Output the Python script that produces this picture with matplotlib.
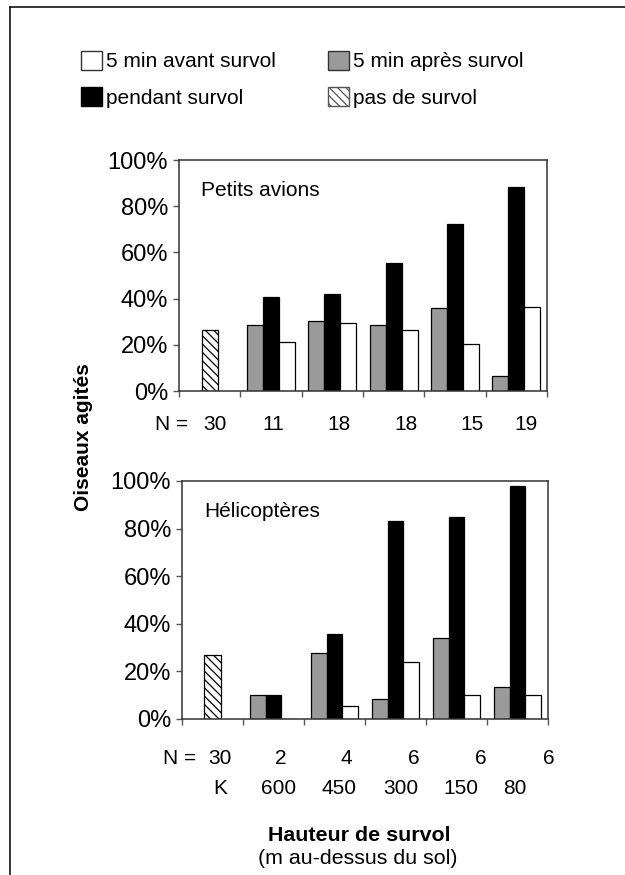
import numpy as np
import matplotlib
matplotlib.use('Agg')
import matplotlib.pyplot as plt
from matplotlib.patches import Patch
from matplotlib.lines import Line2D
from matplotlib.ticker import FuncFormatter

plt.rcParams['font.family'] = ['Liberation Sans', 'DejaVu Sans']
plt.rcParams['hatch.linewidth'] = 0.9

# Hauteurs de survol (K = controle, pas de survol)
hauteurs = ['K', '600', '450', '300', '150', '80']
n_avions = [30, 11, 18, 18, 15, 19]
n_helicos = [30, 2, 4, 6, 6, 6]

# Petits avions (% d'oiseaux agites)
avions_controle = 26.3
avions_apres = [28.5, 30.3, 28.6, 36.0, 6.4]
avions_pendant = [40.5, 42.2, 55.6, 72.5, 88.4]
avions_avant = [21.1, 29.3, 26.6, 20.2, 36.4]

# Helicopteres
helicos_controle = 26.8
helicos_apres = [10.2, 27.9, 8.4, 34.0, 13.6]
helicos_pendant = [10.2, 35.6, 83.0, 84.7, 98.0]
helicos_avant = [0.0, 5.3, 24.0, 10.2, 10.2]

# layout: small shifts of the N / height labels (in group units)
shift_n_avions = [0.08, 0.03, 0.11, 0.2, 0.28, 0.16]
shift_n_helicos = [0.12, 0.12, 0.19, 0.3, 0.4, 0.52]
shift_hauteurs = [0.12, 0.09, 0.07, 0.09, 0.07, -0.04]

GRIS = '#9a9a9a'
bw = 0.26


def draw_panel(ax, titre, controle, apres, pendant, avant):
    x = np.arange(1, len(hauteurs))
    ax.bar([0], [controle], bw * 1.02, color='white', edgecolor='black',
           hatch='\\\\\\\\', linewidth=0.9)
    ax.bar(x - bw, apres, bw, color=GRIS, edgecolor='black', linewidth=0.9)
    ax.bar(x, pendant, bw, color='black', edgecolor='black', linewidth=0.9)
    ax.bar(x + bw, avant, bw, color='white', edgecolor='black', linewidth=0.9)
    ax.set_xlim(-0.5, len(hauteurs) - 0.5)
    ax.set_ylim(0, 100)
    ax.set_yticks(np.arange(0, 101, 20))
    ax.yaxis.set_major_formatter(FuncFormatter(lambda v, p: '%d%%' % v))
    ax.set_xticks(np.arange(-0.5, len(hauteurs), 1.0))
    ax.set_xticklabels([])
    ax.tick_params(axis='both', direction='out', length=4.5, width=1,
                   color='#555555', labelsize=17, pad=3.5)
    for s in ax.spines.values():
        s.set_color('#333333')
        s.set_linewidth(1.1)
    ax.text(0.06, 0.87, titre, transform=ax.transAxes, fontsize=15,
            va='center', ha='left')


fig = plt.figure(figsize=(6.25, 8.75), dpi=100)

ax1 = fig.add_axes([0.2864, 0.5531, 0.5888, 0.264])
ax2 = fig.add_axes([0.2912, 0.1783, 0.5856, 0.272])

draw_panel(ax1, 'Petits avions', avions_controle, avions_apres,
           avions_pendant, avions_avant)
draw_panel(ax2, 'Hélicoptères', helicos_controle, helicos_apres,
           helicos_pendant, helicos_avant)

# N and height rows under the axes
pos = np.arange(len(hauteurs))
for i in range(len(hauteurs)):
    ax1.text(pos[i] + shift_n_avions[i], -0.147, str(n_avions[i]),
             transform=ax1.get_xaxis_transform(), ha='center', va='center',
             fontsize=15)
    ax2.text(pos[i] + shift_n_helicos[i], -0.164, str(n_helicos[i]),
             transform=ax2.get_xaxis_transform(), ha='center', va='center',
             fontsize=15)
    ax2.text(pos[i] + shift_hauteurs[i], -0.29, hauteurs[i],
             transform=ax2.get_xaxis_transform(), ha='center', va='center',
             fontsize=15)
ax1.text(-0.35, -0.147, 'N =', transform=ax1.get_xaxis_transform(),
         ha='right', va='center', fontsize=15)
ax2.text(-0.27, -0.164, 'N =', transform=ax2.get_xaxis_transform(),
         ha='right', va='center', fontsize=15)

fig.text(0.1336, 0.5006, 'Oiseaux agités', rotation=90, ha='center',
         va='center', fontsize=15, fontweight='bold')
fig.text(0.574, 0.0446, 'Hauteur de survol', ha='center', va='center',
         fontsize=15.4, fontweight='bold')
fig.text(0.573, 0.0194, '(m au-dessus du sol)', ha='center', va='center',
         fontsize=15.4)

handles = [
    Patch(facecolor='white', edgecolor='#333333', label='5 min avant survol'),
    Patch(facecolor='black', edgecolor='black', label='pendant survol'),
    Patch(facecolor=GRIS, edgecolor='#333333', label='5 min après survol'),
    Patch(facecolor='white', edgecolor='#555555', hatch='\\\\\\\\',
          label='pas de survol'),
]
fig.legend(handles=handles, ncol=2, loc='upper left',
           bbox_to_anchor=(81 / 625, 1 - 51 / 875), frameon=False,
           fontsize=15, handlelength=1.0, handleheight=1.0,
           handletextpad=0.2, columnspacing=2.5, labelspacing=0.75,
           borderpad=0, borderaxespad=0)

# partial frame around the figure (top and left)
fig.add_artist(Line2D([10 / 625, 1.0], [1 - 7 / 875, 1 - 7 / 875],
                      transform=fig.transFigure, color='black', lw=1.1))
fig.add_artist(Line2D([10 / 625, 10 / 625], [0.0, 1 - 7 / 875],
                      transform=fig.transFigure, color='black', lw=1.1))

fig.savefig('out.png', dpi=100)
